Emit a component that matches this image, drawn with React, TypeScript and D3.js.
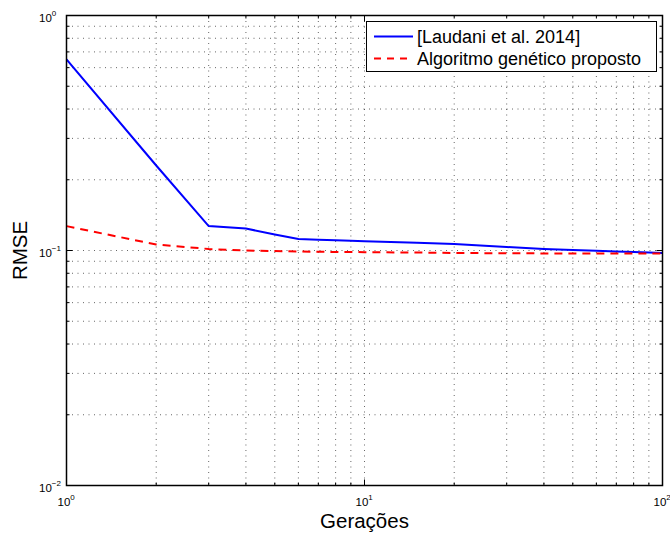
import React from "react";
import * as d3 from "d3";

const generations = [1, 2, 3, 4, 5, 6, 7, 8, 9, 10, 15, 20, 30, 40, 50, 60, 70, 80, 90, 100];
const laudani = [0.65, 0.23, 0.127, 0.124, 0.117, 0.112, 0.111, 0.1105, 0.11, 0.1095, 0.108, 0.1065, 0.1035, 0.1015, 0.1005, 0.0998, 0.0991, 0.0985, 0.098, 0.0975];
const proposto = [0.127, 0.106, 0.1015, 0.1, 0.0995, 0.099, 0.0988, 0.0986, 0.0985, 0.0984, 0.098, 0.0976, 0.0973, 0.0972, 0.0971, 0.097, 0.097, 0.097, 0.097, 0.097];
const seriesNames = ["[Laudani et al. 2014]", "Algoritmo genético proposto"];
const xMajor = [1, 10, 100];
const xMajorExp = ["0", "1", "2"];
const yMajor = [1, 0.1, 0.01];
const yMajorExp = ["0", "\u22121", "\u22122"];
const xLabel = "Gerações";
const yLabel = "RMSE";

const W = 670, H = 536;
const L = 66.5, R = 662.5, T = 15.5, B = 485.5;
const FONT = "Liberation Sans, Arial, Helvetica, sans-serif";

export default function App() {
  const x = d3.scaleLog().domain([1, 100]).range([L, R]);
  const y = d3.scaleLog().domain([0.01, 1]).range([B, T]);

  const xMinor: number[] = [];
  for (const d of [1, 10]) for (let k = 2; k <= 9; k++) xMinor.push(d * k);
  const yMinor: number[] = [];
  for (const d of [0.01, 0.1]) for (let k = 2; k <= 9; k++) yMinor.push(d * k);

  const xGrid = [...xMinor, 10];
  const yGrid = [...yMinor, 0.1];

  const line = d3
    .line<number>()
    .x((_, i) => x(generations[i]))
    .y((v) => y(v));

  const grid = { stroke: "#000", strokeWidth: 0.8, strokeDasharray: "1,4.5", opacity: 0.75 };

  return (
    <svg width={W} height={H} style={{ position: "absolute", left: 0, top: 0, background: "#fff" }} fontFamily={FONT}>
      <rect x={0} y={0} width={W} height={H} fill="#fff" />
      {xGrid.map((v) => (
        <line key={"xg" + v} x1={x(v)} x2={x(v)} y1={T} y2={B} {...grid} />
      ))}
      {yGrid.map((v) => (
        <line key={"yg" + v} x1={L} x2={R} y1={y(v)} y2={y(v)} {...grid} />
      ))}
      {xMinor.map((v) => (
        <g key={"xt" + v} stroke="#000" strokeWidth={1}>
          <line x1={x(v)} x2={x(v)} y1={B} y2={B - 3} />
          <line x1={x(v)} x2={x(v)} y1={T} y2={T + 3} />
        </g>
      ))}
      {xMajor.map((v) => (
        <g key={"xM" + v} stroke="#000" strokeWidth={1}>
          <line x1={x(v)} x2={x(v)} y1={B} y2={B - 6} />
          <line x1={x(v)} x2={x(v)} y1={T} y2={T + 6} />
        </g>
      ))}
      {yMinor.map((v) => (
        <g key={"yt" + v} stroke="#000" strokeWidth={1}>
          <line x1={L} x2={L + 3} y1={y(v)} y2={y(v)} />
          <line x1={R} x2={R - 3} y1={y(v)} y2={y(v)} />
        </g>
      ))}
      {yMajor.map((v) => (
        <g key={"yM" + v} stroke="#000" strokeWidth={1}>
          <line x1={L} x2={L + 6} y1={y(v)} y2={y(v)} />
          <line x1={R} x2={R - 6} y1={y(v)} y2={y(v)} />
        </g>
      ))}
      <path d={line(laudani) || ""} fill="none" stroke="#0000ff" strokeWidth={2} />
      <path d={line(proposto) || ""} fill="none" stroke="#ff0000" strokeWidth={2} strokeDasharray="8,6" />
      <rect x={L} y={T} width={R - L} height={B - T} fill="none" stroke="#000" strokeWidth={1.5} />
      {xMajor.map((v, i) => (
        <text key={"xl" + v} x={x(v) - 9} y={506} fontSize={11.5} fill="#000">
          10
          <tspan dy={-6} fontSize={8}>{xMajorExp[i]}</tspan>
        </text>
      ))}
      {yMajor.map((v, i) => (
        <text key={"yl" + v} x={39} y={y(v) + 6} fontSize={11.5} fill="#000">
          10
          <tspan dy={-6} fontSize={8}>{yMajorExp[i]}</tspan>
        </text>
      ))}
      <text x={(L + R) / 2} y={528} fontSize={20.5} textAnchor="middle" fill="#000">
        {xLabel}
      </text>
      <text transform={`translate(26.5,${(T + B) / 2}) rotate(-90)`} fontSize={20.5} textAnchor="middle" fill="#000">
        {yLabel}
      </text>
      <rect x={366.5} y={21.5} width={290} height={50} fill="#fff" stroke="#000" strokeWidth={1} />
      <line x1={374} x2={413} y1={36.5} y2={36.5} stroke="#0000ff" strokeWidth={2} />
      <line x1={374} x2={413} y1={58.5} y2={58.5} stroke="#ff0000" strokeWidth={2} strokeDasharray="7,6" />
      <text x={417} y={43} fontSize={18} fill="#000">{seriesNames[0]}</text>
      <text x={417} y={65} fontSize={18} fill="#000">{seriesNames[1]}</text>
    </svg>
  );
}
